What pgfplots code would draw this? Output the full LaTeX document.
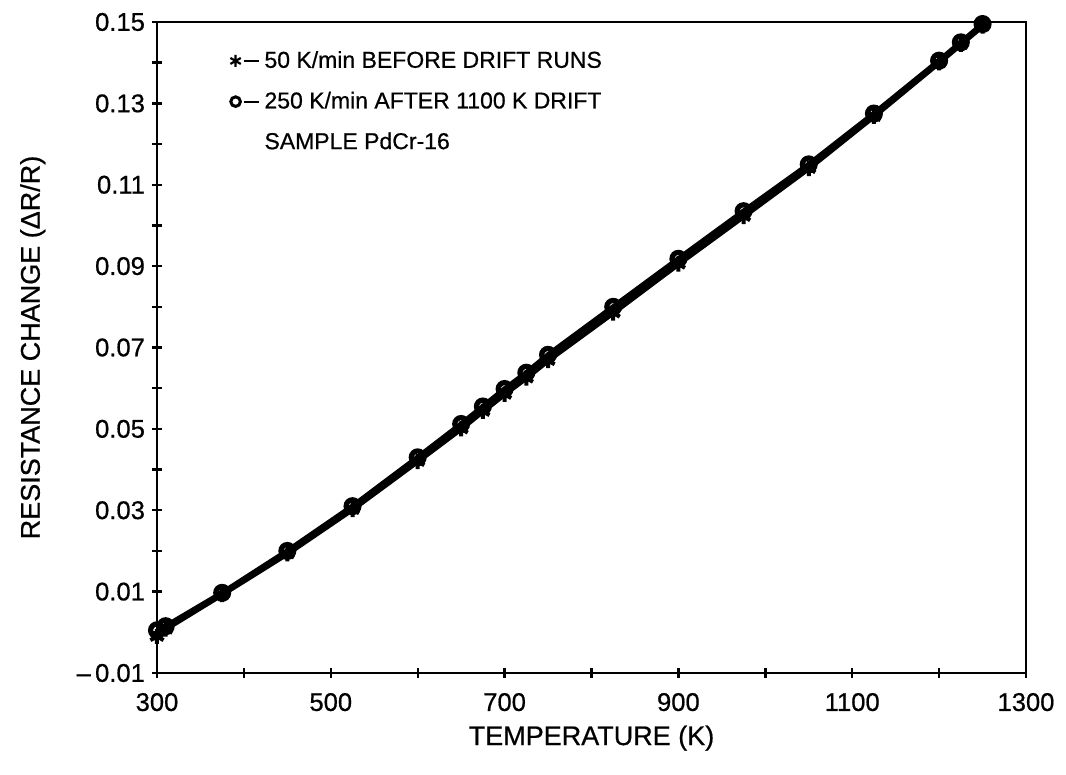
\documentclass[border=0pt]{standalone}
\usepackage{pgfplots}
\pgfplotsset{compat=1.18}
\usepackage{fontspec}
\setmainfont{Liberation Sans}[FakeBold=0.6]
\pgfplotsset{
  legA/.style={legend image code/.code={\draw[##1, mark size=3pt, mark options={line width=1.1pt}] plot coordinates {(0cm,0cm)}; \draw[black, line width=1pt] (0.14cm,0cm)--(0.42cm,0cm);}},
  legB/.style={legend image code/.code={\draw[##1, mark size=2.4pt, mark options={line width=1.5pt}] plot coordinates {(0cm,0cm)}; \draw[black, line width=1pt] (0.14cm,0cm)--(0.42cm,0cm);}},
}
\begin{document}
\begin{tikzpicture}
\begin{axis}[
  scale only axis,
  width=434.5pt, height=325.5pt,
  xmin=300, xmax=1300, ymin=-0.01, ymax=0.15,
  axis line style={line width=1.3pt},
  xtick={300,500,700,900,1100,1300},
  xticklabels={300,500,700,900,1100,1300},
  minor xtick={400,600,800,1000,1200},
  ytick={-0.01,0.01,0.03,0.05,0.07,0.09,0.11,0.13,0.15},
  yticklabels={{--\,0.01},0.01,0.03,0.05,0.07,0.09,0.11,0.13,0.15},
  minor ytick={0,0.02,0.04,0.06,0.08,0.10,0.12,0.14},
  xtick pos=bottom, ytick pos=left,
  tick align=center,
  major tick length=5pt, minor tick length=5pt,
  every tick/.style={line width=1.2pt, black},
  tick label style={font=\fontsize{12.8}{14}\selectfont},
  xticklabel style={yshift=-4pt},
  xlabel={TEMPERATURE (K)},
  ylabel={RESISTANCE CHANGE (ΔR/R)},
  label style={font=\fontsize{13.5}{15}\selectfont},
  xlabel style={at={(axis description cs:0.5,-0.10)}, anchor=center},
  ylabel style={at={(axis description cs:-0.143,0.5)}, anchor=center},
  legend cell align=left,
  legend style={draw=none, fill=none, at={(axis description cs:0.084,0.962)}, anchor=north west,
    font=\fontsize{11.5}{13}\selectfont, row sep=6.5pt, inner sep=0pt},
]
\addplot[black, line width=2.6pt, mark=asterisk, mark size=3.8pt, mark options={line width=2pt}, legA]
coordinates {
(300,-0.0010) (310,0.0008) (375,0.0093) (450,0.0193) (525,0.0302) (600,0.0420)
(650,0.0500) (675,0.0543) (700,0.0585) (725,0.0625) (750,0.0668) (825,0.0785)
(900,0.0905) (975,0.1022) (1050,0.1140) (1125,0.1268) (1200,0.1400) (1225,0.1445) (1250,0.1490)
};
\addlegendentry{50 K/min BEFORE DRIFT RUNS}
\addplot[black, line width=2.6pt, mark=o, mark size=3.2pt, mark options={line width=2.6pt}, legB]
coordinates {
(300,0.0005) (310,0.0015) (375,0.0097) (450,0.0200) (525,0.0310) (600,0.0430)
(650,0.0512) (675,0.0555) (700,0.0598) (725,0.0638) (750,0.0682) (825,0.0800)
(900,0.0918) (975,0.1035) (1050,0.1150) (1125,0.1275) (1200,0.1405) (1225,0.1450) (1250,0.1495)
};
\addlegendentry{250 K/min AFTER 1100 K DRIFT}
\addlegendimage{empty legend}
\addlegendentry{SAMPLE PdCr-16}
\end{axis}
\path (current axis.south west) ++(-78.5pt,-51pt) coordinate (bbA);
\path (current axis.north east) ++(20pt,11pt) coordinate (bbB);
\path (bbA) rectangle (bbB);
\end{tikzpicture}
\end{document}
